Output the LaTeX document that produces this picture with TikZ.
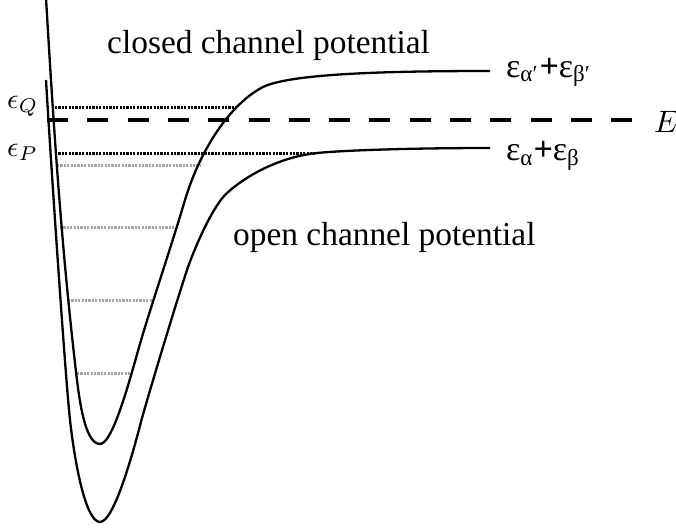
\documentclass[tikz,border=0pt]{standalone}
\usepackage{fontspec}
\setmainfont{Liberation Serif}
\newcommand{\lowsub}[1]{\raisebox{-5pt}{\fontsize{23}{23}\selectfont #1}}
\begin{document}
\begin{tikzpicture}[x=1pt,y=-1pt,
  curve/.style={line width=2.3pt, line join=round},
  blackdots/.style={line width=3pt, dash pattern=on 2.2pt off 1.2pt},
  graydots/.style={line width=3pt, color=black!35, dash pattern=on 2.2pt off 1.2pt},
  energy/.style={line width=4pt, dash pattern=on 21pt off 19.3pt},
  lbl/.style={inner sep=0pt, anchor=base west}]
\useasboundingbox (0,0) rectangle (676,527);
% level lines
\draw[graydots] (57,165) -- (200,165);
\draw[graydots] (60,227) -- (175,227);
\draw[graydots] (68,300) -- (152,300);
\draw[graydots] (77,373) -- (130,373);
\draw[blackdots] (55,107) -- (238,107);
\draw[blackdots] (55,153) -- (315,153);
\draw[energy] (47,120) -- (640,120);
% closed channel potential
\draw[curve] (46,-2) .. controls (53.6,127) and (61.8,253) .. (77,380)
  .. controls (79.5,400) and (85,444) .. (100,444)
  .. controls (114,444) and (133,367) .. (142,337)
  .. controls (154,297) and (172,244) .. (185,200)
  .. controls (200,150) and (230,104) .. (263,87)
  .. controls (290,74) and (380,71) .. (490,71);
% open channel potential
\draw[curve] (46,80) .. controls (52,180) and (65.6,380) .. (70,420)
  .. controls (75,465) and (86,522) .. (100,522)
  .. controls (114,522) and (133,453) .. (142,418)
  .. controls (151,386) and (177,300) .. (187,270)
  .. controls (193,252) and (212,206.5) .. (227,193)
  .. controls (252,170.5) and (287,156) .. (317,153)
  .. controls (347,150) and (420,148) .. (490,148);
% labels
\node[lbl, font=\fontsize{33.4}{33.4}\selectfont] (closed) at (107,53) {closed channel potential};
\node[lbl, font=\fontsize{33.4}{33.4}\selectfont] (open) at (233,245) {open channel potential};
\node[lbl] (epsQ) at (7,108) {\scalebox{2.85}{$\epsilon_Q$}};
\node[lbl] (epsP) at (7,156) {\scalebox{2.85}{$\epsilon_P$}};
\node[lbl] (E) at (654,132) {\scalebox{3.1}{$E$}};
\node[lbl, font=\fontsize{34}{34}\selectfont] (thrQ) at (506,77) {ε\lowsub{α′}\hspace{2pt}\textbf{+}ε\lowsub{β′}};
\node[lbl, font=\fontsize{34}{34}\selectfont] (thrP) at (506,160) {ε\lowsub{α}\hspace{1pt}\textbf{+}ε\lowsub{β}};
\end{tikzpicture}
\end{document}
